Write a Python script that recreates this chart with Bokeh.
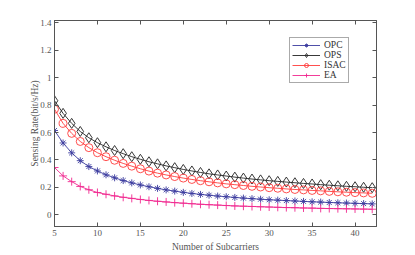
from bokeh.plotting import figure
from bokeh.models import Range1d, LinearAxis, FixedTicker, CustomJSTickFormatter, Legend
from bokeh.embed import file_html
from bokeh.resources import INLINE

subcarriers = list(range(5, 43))
opc = [0.615, 0.524, 0.452, 0.395, 0.352, 0.320, 0.292, 0.270, 0.250, 0.233,
       0.218, 0.205, 0.193, 0.182, 0.173, 0.164, 0.156, 0.149, 0.143, 0.137,
       0.132, 0.127, 0.122, 0.118, 0.114, 0.110, 0.107, 0.104, 0.101, 0.098,
       0.095, 0.093, 0.090, 0.088, 0.086, 0.084, 0.082, 0.080]
ops = [0.832, 0.740, 0.667, 0.608, 0.562, 0.526, 0.496, 0.469, 0.446, 0.424,
       0.405, 0.387, 0.372, 0.357, 0.344, 0.331, 0.320, 0.309, 0.299, 0.291,
       0.283, 0.275, 0.268, 0.261, 0.255, 0.249, 0.244, 0.239, 0.234, 0.229,
       0.225, 0.220, 0.216, 0.212, 0.208, 0.205, 0.201, 0.198]
isac = [0.770, 0.667, 0.594, 0.535, 0.490, 0.453, 0.424, 0.398, 0.375, 0.355,
        0.336, 0.319, 0.304, 0.291, 0.279, 0.268, 0.258, 0.249, 0.241, 0.233,
        0.226, 0.220, 0.214, 0.208, 0.203, 0.198, 0.194, 0.189, 0.185, 0.182,
        0.178, 0.175, 0.171, 0.168, 0.165, 0.162, 0.160, 0.157]
ea = [0.345, 0.284, 0.242, 0.207, 0.183, 0.163, 0.150, 0.138, 0.128, 0.120,
      0.112, 0.105, 0.099, 0.094, 0.089, 0.085, 0.081, 0.077, 0.074, 0.071,
      0.068, 0.065, 0.063, 0.061, 0.059, 0.057, 0.055, 0.053, 0.052, 0.050,
      0.049, 0.047, 0.046, 0.045, 0.044, 0.043, 0.042, 0.041]

x_ticks = [5, 10, 15, 20, 25, 30, 35, 40]
y_ticks = [0, 0.2, 0.4, 0.6, 0.8, 1.0, 1.2, 1.4]
y_tick_labels = ["0", "0.2", "0.4", "0.6", "0.8", "1", "1.2", "1.4"]

FONT = "Liberation Serif"
AX = "#555555"

p = figure(width=399, height=254, output_backend="svg", toolbar_location=None,
           x_range=Range1d(5, 42.5), y_range=Range1d(-0.085, 1.417),
           min_border_left=54, min_border_right=23, min_border_top=20,
           min_border_bottom=10)
p.background_fill_color = "white"
p.border_fill_color = "white"
p.outline_line_color = AX
p.outline_line_width = 1
p.xgrid.visible = False
p.ygrid.visible = False

def style(ax, ticks):
    ax.ticker = FixedTicker(ticks=ticks)
    ax.major_tick_in = 4
    ax.major_tick_out = 0
    ax.minor_tick_line_color = None
    ax.axis_line_color = AX
    ax.major_tick_line_color = AX
    ax.major_label_text_font = FONT
    ax.major_label_text_font_size = "9px"
    ax.major_label_text_color = AX
    ax.axis_label_text_font = FONT
    ax.axis_label_text_font_size = "9.5px"
    ax.axis_label_text_font_style = "normal"
    ax.axis_label_text_color = AX

xa = p.xaxis[0]
style(xa, x_ticks)
xa.axis_label = "Number of Subcarriers"
xa.major_label_standoff = 3
xa.axis_label_standoff = 3

ya = p.yaxis[0]
style(ya, y_ticks)
ya.axis_label = "Sensing Rate(bit/s/Hz)"
ya.major_label_overrides = {t: l for t, l in zip(y_ticks, y_tick_labels)}
ya.major_label_standoff = 3
ya.axis_label_standoff = -3

top = LinearAxis()
style(top, x_ticks)
top.formatter = CustomJSTickFormatter(code="return ''")
top.major_label_text_font_size = "0px"
top.major_label_standoff = 0
p.add_layout(top, "above")

right = LinearAxis()
style(right, y_ticks)
right.formatter = CustomJSTickFormatter(code="return ''")
right.major_label_text_font_size = "0px"
right.major_label_standoff = 0
p.add_layout(right, "right")

series = [
    ("OPC", opc, "#3b3b9e", "asterisk", 7, False),
    ("OPS", ops, "#222222", "diamond", 10, True),
    ("ISAC", isac, "#ff3b3b", "circle", 8, True),
    ("EA", ea, "#f0288f", "cross", 8, False),
]
items = []
for name, ys, col, mk, sz, hollow in series:
    r1 = p.line(subcarriers, ys, line_color=col, line_width=0.9)
    r2 = p.scatter(subcarriers, ys, marker=mk, size=sz, line_color=col,
                   fill_color=("white" if hollow else col), fill_alpha=(0 if hollow else 1),
                   line_width=0.9)
    items.append((name, [r1, r2]))

legend = Legend(items=items, location=(235, 143))
legend.label_text_font = FONT
legend.label_text_font_size = "9.5px"
legend.label_text_color = "#333333"
legend.glyph_width = 28
legend.glyph_height = 10
legend.label_height = 10
legend.label_standoff = 4
legend.spacing = 0
legend.padding = 2
legend.margin = 0
legend.border_line_color = AX
legend.border_line_width = 1
legend.background_fill_color = "white"
legend.background_fill_alpha = 1
p.add_layout(legend, "center")

open("out.html", "w").write(file_html(p, INLINE))
